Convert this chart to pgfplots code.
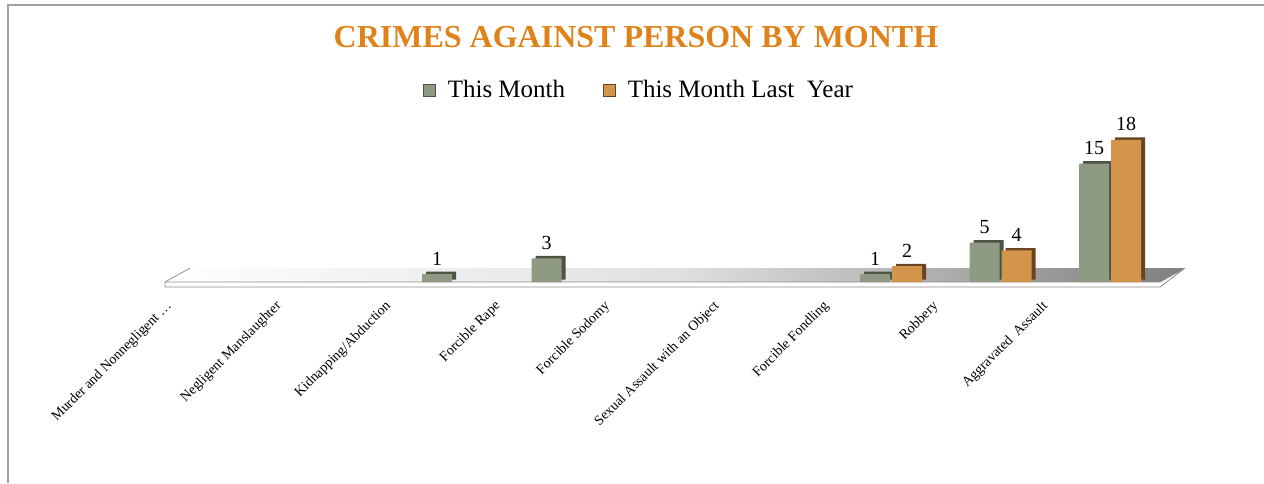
\documentclass[border=0pt]{standalone}
\usepackage{fontspec}
\setmainfont{Liberation Serif}
\usepackage{pgfplots}
\pgfplotsset{compat=1.18}
\definecolor{tmfill}{HTML}{8E9B82}
\definecolor{tmside}{HTML}{4C5344}
\definecolor{lyfill}{HTML}{D3944C}
\definecolor{lyside}{HTML}{6A4420}
\definecolor{titleorange}{HTML}{E0821A}
\definecolor{framegray}{HTML}{A0A0A0}
\begin{document}
\begin{tikzpicture}
\path[use as bounding box] (0pt,0pt) rectangle (632pt,-241.5pt);
\draw[framegray, line width=0.8pt] (4pt,-241.5pt) -- (4pt,-2.5pt) -- (632pt,-2.5pt);
\node[font=\fontsize{16}{18}\selectfont\bfseries, text=titleorange, anchor=center] at (318pt,-18.5pt) {CRIMES AGAINST PERSON BY MONTH};
\begin{axis}[
  at={(117pt,-141pt)}, anchor=origin,
  x=54.75pt, y=3.95pt,
  xmin=-0.7, xmax=8.7, ymin=-1, ymax=20,
  clip=false,
  axis line style={draw=none},
  major tick length=0pt,
  ytick=\empty,
  xtick={0,1,2,3,4,5,6,7,8},
  xticklabels={{Murder and Nonnegligent \ldots}, Negligent Manslaughter, Kidnapping/Abduction, Forcible Rape, Forcible Sodomy, Sexual Assault with an Object, Forcible Fondling, Robbery, Aggravated\ \ Assault},
  xticklabel style={font=\fontsize{7}{8}\selectfont, anchor=east, shift={(-32pt,-7pt)}, rotate=45, inner sep=0pt},
  ybar, bar width=15pt,
  y filter/.expression={y==0 ? nan : y},
  point meta=explicit symbolic,
  nodes near coords,
  nodes near coords style={font=\fontsize{10}{11}\selectfont, anchor=south, yshift=1pt},
  legend style={at={(axis description cs:0.469,1.205)}, anchor=center, draw=none, fill=none,
    font=\fontsize{12.5}{14}\selectfont, legend columns=2,
    /tikz/every odd column/.append style={column sep=4pt},
    /tikz/every even column/.append style={column sep=17pt}},
  legend image code/.code={\fill[#1] (0pt,-3pt) rectangle (6pt,3pt);},
]
% floor
\fill[left color=white, right color=black!50, middle color=black!12]
  (axis cs:-0.63,0) -- (axis cs:8.457,0) -- (axis cs:8.685,1.77) -- (axis cs:-0.40,1.77) -- cycle;
\draw[black!45, line width=0.4pt, fill=white]
  (axis cs:-0.63,-0.63) -- (axis cs:8.457,-0.63) -- (axis cs:8.685,1.77) -- (axis cs:8.457,0) -- (axis cs:-0.63,0) -- cycle;
\draw[black!40, line width=0.4pt] (axis cs:-0.63,0) -- (axis cs:-0.40,1.77);

\addlegendimage{fill=tmfill, draw=tmside, line width=0.3pt}
\addlegendentry{This Month}
\addlegendimage{fill=lyfill, draw=lyside, line width=0.3pt}
\addlegendentry{This Month Last\ \ Year}

\addplot[forget plot, fill=tmfill, draw=none, bar shift=-8pt,
  preaction={fill=tmside, transform canvas={shift={(2pt,1.2pt)}}}]
  coordinates {(0,0) [] (1,0) [] (2,1) [1] (3,3) [3] (4,0) [] (5,0) [] (6,1) [1] (7,5) [5] (8,15) [15]};
\addplot[forget plot, fill=lyfill, draw=none, bar shift=8pt,
  preaction={fill=lyside, transform canvas={shift={(2pt,1.2pt)}}}]
  coordinates {(0,0) [] (1,0) [] (2,0) [] (3,0) [] (4,0) [] (5,0) [] (6,2) [2] (7,4) [4] (8,18) [18]};
\end{axis}
\end{tikzpicture}
\end{document}
